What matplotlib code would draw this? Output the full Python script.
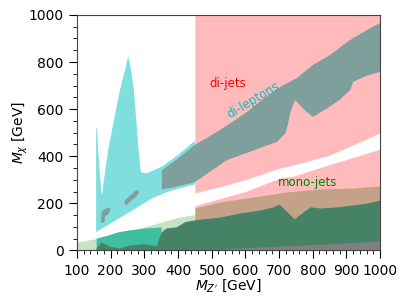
import numpy as np
import matplotlib
matplotlib.use('Agg')
import matplotlib.pyplot as plt
from matplotlib.ticker import MultipleLocator

# di-jets (pink), split by the white strip
dijet_x = [450, 525, 600, 703, 742, 851, 1000]
dijet_upper_lo = [244, 270, 300, 350, 362, 405, 499]
dijet_lower_hi = [190, 220, 250, 308, 315, 365, 430]

# di-leptons (cyan) outline
dilep_x = [157, 157, 160, 163, 168, 173, 175, 180, 193, 208, 228, 243, 252, 259, 269, 277,
           283, 289, 292, 307, 352, 400, 450, 450, 400, 361, 325, 257, 157]
dilep_y = [78, 524, 511, 426, 329, 244, 236, 299, 426, 541, 682, 767, 826, 780, 682, 541,
           426, 342, 330, 328, 355, 405, 465, 280, 262, 244, 223, 163, 78]

# dark band inside di-leptons
band_x = [352, 400, 450, 500, 548, 605, 650, 703, 753, 801, 851, 911, 961, 1000,
          1000, 960, 920, 911, 880, 850, 801, 780, 760, 747, 733, 727, 720, 694, 644, 546, 450, 400, 352]
band_y = [340, 390, 448, 490, 533, 588, 640, 694, 732, 788, 830, 894, 936, 966,
          758, 742, 716, 681, 640, 610, 567, 590, 620, 639, 583, 540, 500, 461, 435, 384, 290, 272, 258]
island1_x = [240, 243, 257, 272, 281, 284, 275, 260, 248]
island1_y = [197, 214, 231, 253, 257, 244, 227, 210, 193]
island2_x = [171, 174, 186, 201, 196, 184, 181]
island2_y = [118, 165, 179, 179, 158, 144, 118]

# mono-jets
mono_x_lo = [100, 157, 200, 250, 300, 350, 400, 450]
mono_top_lo = [36, 50, 62, 80, 100, 120, 140, 152]
mono_x_hi = [450, 525, 624, 723, 822, 920, 1000]
mono_top_hi = [180, 206, 227, 248, 261, 265, 274]

teal_x = [157, 190, 225, 260, 300, 350]
teal_top = [52, 65, 80, 88, 95, 100]

dark_x = [157, 165, 172, 180, 195, 225, 254, 296, 335, 350, 364, 394, 420, 450, 500, 525, 584,
          644, 682, 700, 718, 745, 771, 792, 822, 872, 920, 961, 1000]
dark_top = [10, 25, 36, 30, 19, 10, 23, 28, 20, 78, 95, 100, 122, 130, 138, 142, 159,
            172, 185, 197, 172, 134, 163, 185, 180, 185, 193, 201, 214]

floor_x = [450, 550, 700, 850, 1000]
floor_top = [0, 8, 18, 28, 40]

fig = plt.figure(figsize=(4.07, 3.05), dpi=100)
ax = fig.add_axes([0.189, 0.179, 0.745, 0.772])

ax.fill_between(dijet_x, dijet_upper_lo, 1000, color='#FFBBBB', lw=0)
ax.fill_between(dijet_x, 0, dijet_lower_hi, color='#FFBBBB', lw=0)
ax.fill(dilep_x, dilep_y, color='#7FDFDF', lw=0)
ax.fill(band_x, band_y, color='#7F9F9D', lw=0)
ax.fill(island1_x, island1_y, color='#7F9F9D', lw=0)
ax.fill(island2_x, island2_y, color='#7F9F9D', lw=0)
ax.fill_between(mono_x_lo, 0, mono_top_lo, color='#C8E3C3', lw=0)
ax.fill_between(mono_x_hi, 0, mono_top_hi, color='#C4A287', lw=0)
ax.fill_between(teal_x, 0, teal_top, color='#3FBF9F', lw=0)
ax.fill_between(dark_x, 0, dark_top, color='#458266', lw=0)
ax.fill_between(floor_x, 0, floor_top, color='#808080', lw=0)

ax.text(548, 710, 'di-jets', color='red', fontsize=8.5, ha='center', va='center')
ax.text(623, 639, 'di-leptons', color='c', fontsize=8.5, ha='center', va='center', rotation=31)
ax.text(786, 287, 'mono-jets', color='green', fontsize=8.5, ha='center', va='center')

ax.set_xlim(100, 1000)
ax.set_ylim(0, 1000)
ax.xaxis.set_major_locator(MultipleLocator(100))
ax.xaxis.set_minor_locator(MultipleLocator(20))
ax.yaxis.set_major_locator(MultipleLocator(200))
ax.yaxis.set_minor_locator(MultipleLocator(50))
ax.tick_params(which='major', length=6, labelsize=10)
ax.tick_params(which='minor', length=3)
ax.set_xlabel("$M_{Z'}$ [GeV]", fontsize=10, labelpad=0)
ax.set_ylabel("$M_\\chi$ [GeV]", fontsize=10, labelpad=-1)
for s in ax.spines.values():
    s.set_color('#444444')

fig.savefig('out.png', dpi=100)
